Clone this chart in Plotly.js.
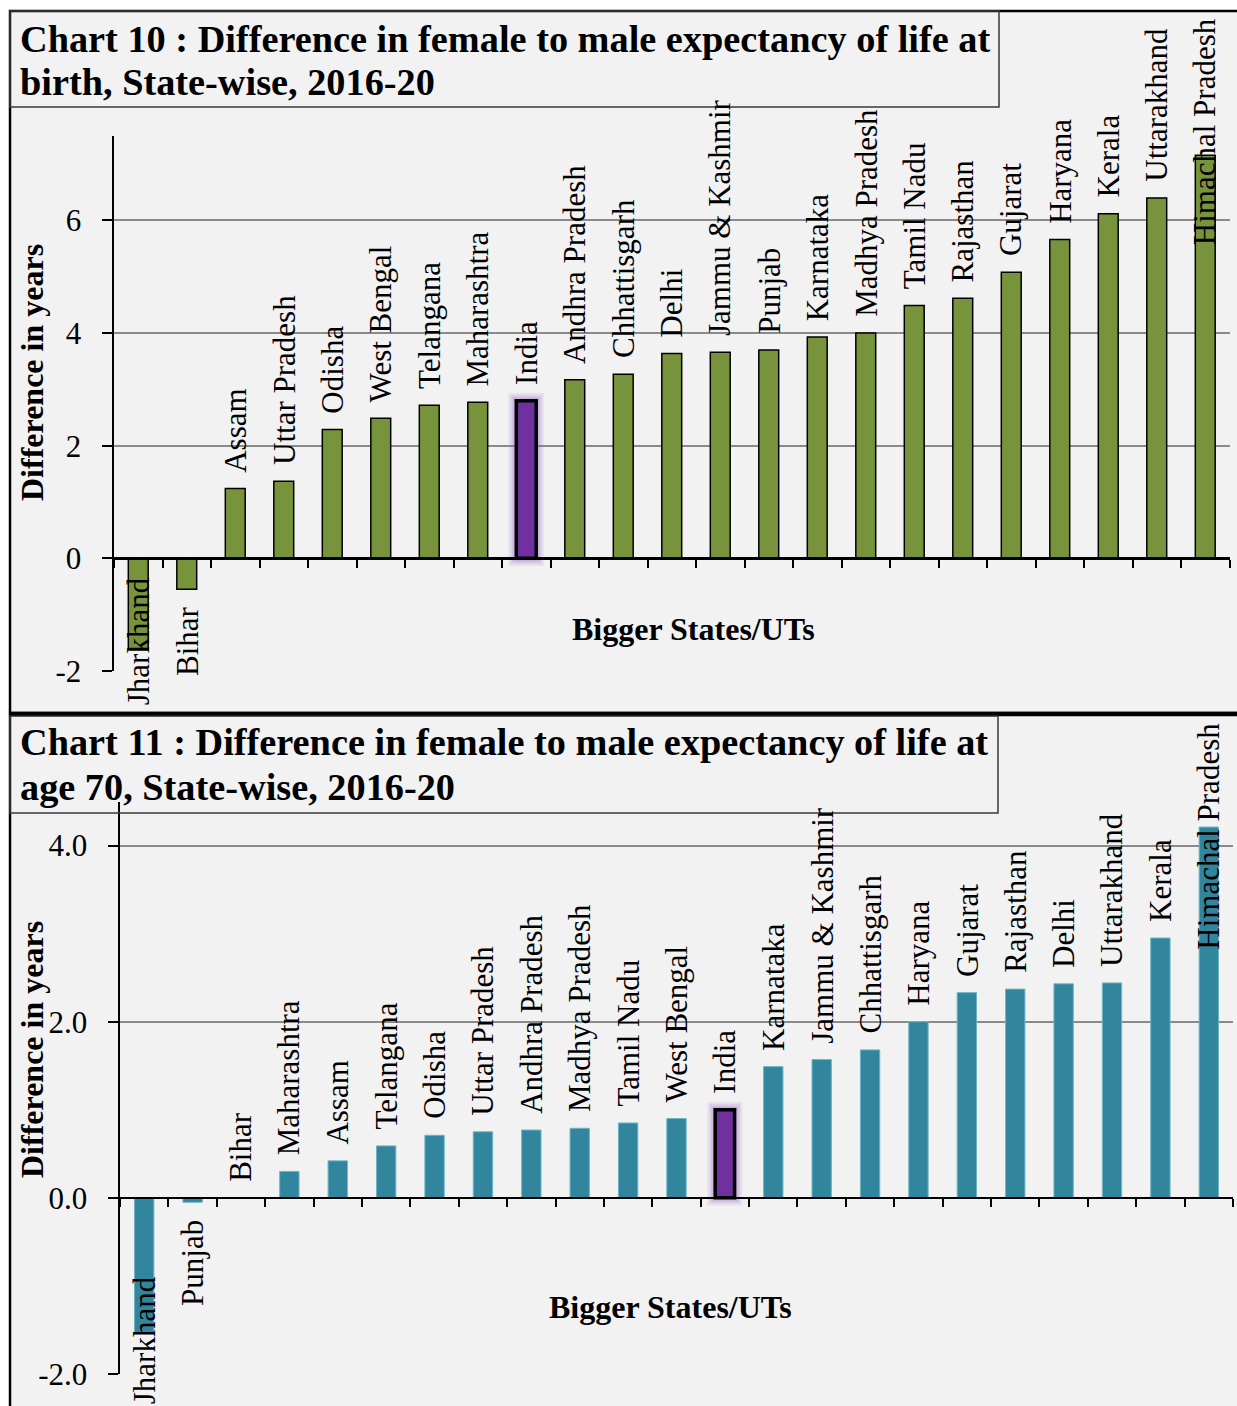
<!DOCTYPE html>
<html><head><meta charset="utf-8">
<script src="https://cdn.plot.ly/plotly-3.0.1.min.js"></script>
<style>html,body{margin:0;padding:0;background:#fff}#chart{width:1237px;height:1406px}</style>
</head><body><div id="chart"></div>
<script>
// ---------- data ----------
const birthStates = ["Jharkhand","Bihar","Assam","Uttar Pradesh","Odisha","West Bengal","Telangana","Maharashtra","India","Andhra Pradesh","Chhattisgarh","Delhi","Jammu & Kashmir","Punjab","Karnataka","Madhya Pradesh","Tamil Nadu","Rajasthan","Gujarat","Haryana","Kerala","Uttarakhand","Himachal Pradesh"];
const birthValues = [-1.6,-0.55,1.24,1.37,2.29,2.49,2.72,2.77,2.8,3.17,3.27,3.64,3.66,3.7,3.93,4.0,4.49,4.62,5.08,5.66,6.12,6.4,7.16];
const age70States = ["Jharkhand","Punjab","Bihar","Maharashtra","Assam","Telangana","Odisha","Uttar Pradesh","Andhra Pradesh","Madhya Pradesh","Tamil Nadu","West Bengal","India","Karnataka","Jammu & Kashmir","Chhattisgarh","Haryana","Gujarat","Rajasthan","Delhi","Uttarakhand","Kerala","Himachal Pradesh"];
const age70Values = [-1.53,-0.05,0,0.3,0.42,0.59,0.71,0.75,0.77,0.79,0.85,0.9,1.0,1.49,1.57,1.68,2.0,2.33,2.37,2.43,2.44,2.95,4.21];
const birthTickVals = [-2,0,2,4,6];
const birthTickText = ["-2","0","2","4","6"];
const age70TickVals = [-2,0,2,4];
const age70TickText = ["-2.0","0.0","2.0","4.0"];
const birthRange = [-2,7.5];
const age70Range = [-2,4.5];
const titleBirth = ["Chart 10 : Difference in female to male expectancy of life at","birth, State-wise, 2016-20"];
const titleAge70 = ["Chart 11 : Difference in female to male expectancy of life at","age 70, State-wise, 2016-20"];
const yTitleText = "Difference in years";
const xTitleText = "Bigger States/UTs";
const highlight = "India";

// ---------- layout helpers ----------
const W = 1237, H = 1406;
const FONT = "Liberation Serif, 'Times New Roman', serif";
const fx = x => x / W;
const fy = y => 1 - y / H;

const panels = [
  {states:birthStates, values:birthValues, range:birthRange, tv:birthTickVals, tt:birthTickText, title:titleBirth,
   color:"#77933c", lineColor:"#000000", lineW:1.5,
   xd:[114,1229.5], yd:[136,671], top:11, bottom:713, labelBottomLimit:707, titleBox:[10,999,11,107], titleY:[39,82],
   xTitleY:629, xTitleX:693, yTitleY:373, xa:"x", ya:"y", barW:0.41},
  {states:age70States, values:age70Values, range:age70Range, tv:age70TickVals, tt:age70TickText, title:titleAge70,
   color:"#31859c", lineColor:"#6fb4c6", lineW:1,
   xd:[120,1233], yd:[801.5,1374], top:715, bottom:1412, labelBottomLimit:1406, titleBox:[10,998,716,813], titleY:[742,787],
   xTitleY:1307, xTitleX:670, yTitleY:1050, xa:"x2", ya:"y2", barW:0.40}
];

const canvas = document.createElement("canvas");
const ctx = canvas.getContext("2d");
const LABEL_SIZE = 31;
ctx.font = LABEL_SIZE + "px 'Liberation Serif'";

const traces = [], annotations = [], shapes = [];
const layout = {
  width: W, height: H, margin:{l:0,r:0,t:0,b:0},
  paper_bgcolor:"#ffffff", plot_bgcolor:"rgba(0,0,0,0)",
  showlegend:false, barmode:"overlay", font:{family:FONT, color:"#000"}
};

panels.forEach((p, i) => {
  const r0 = p.range[0], r1 = p.range[1];
  const pxPerUnit = (p.yd[1] - p.yd[0]) / (r1 - r0);
  const yPx = v => p.yd[1] - (v - r0) * pxPerUnit;
  const catPx = (p.xd[1] - p.xd[0]) / p.states.length;
  const sfx = i === 0 ? "" : "2";

  // glow behind highlighted bar
  [[8,0.10],[6,0.14],[4,0.2],[2,0.3]].forEach(([g,a]) => {
    traces.push({
      type:"bar", x:p.states, xaxis:p.xa, yaxis:p.ya,
      y:p.values.map((v,k) => p.states[k]===highlight ? Math.abs(v) + 2*g/pxPerUnit : null),
      base:p.values.map((v,k) => p.states[k]===highlight ? Math.min(v,0) - g/pxPerUnit : null),
      width:p.states.map(s => p.barW + 2*g/catPx),
      marker:{color:"rgba(150,100,200," + a + ")", line:{width:0}},
      hoverinfo:"skip"
    });
  });
  // main bars
  traces.push({
    type:"bar", x:p.states, y:p.values, xaxis:p.xa, yaxis:p.ya, width:p.barW,
    marker:{
      color:p.states.map(s => s===highlight ? "#7030a0" : p.color),
      line:{color:p.states.map(s => s===highlight ? "#000000" : p.lineColor),
            width:p.states.map(s => s===highlight ? 3.5 : p.lineW)}
    }
  });

  const zeroPos = fy(yPx(0));
  layout["xaxis"+sfx] = {
    domain:[fx(p.xd[0]), fx(p.xd[1])], anchor:"free", position:zeroPos,
    type:"category", range:[-0.5, p.states.length-0.5],
    showline:true, linecolor:"#000", linewidth:2.5,
    ticks:"outside", tickson:"boundaries", ticklen:8, tickwidth:2, tickcolor:"#000",
    showticklabels:false, showgrid:false, zeroline:false, fixedrange:true
  };
  layout["yaxis"+sfx] = {
    domain:[fy(p.yd[1]), fy(p.yd[0])], anchor:p.xa, range:p.range,
    tickmode:"array", tickvals:p.tv, ticktext:p.tt,
    showline:true, linecolor:"#000", linewidth:2.5,
    ticks:"outside", ticklen:10, tickwidth:2, tickcolor:"#000",
    ticklabelstandoff:14,
    tickfont:{family:FONT, size:31, color:"#000"},
    showgrid:true, gridcolor:"#8a8a8a", gridwidth:2, zeroline:false, fixedrange:true
  };

  // panel background + borders
  shapes.push({type:"rect", xref:"paper", yref:"paper", layer:"below",
    x0:fx(10), x1:fx(W+20), y0:fy(p.bottom), y1:fy(p.top),
    fillcolor:"#f2f2f2", line:{color:"#000", width:2.5}});
  // title box
  const tb = p.titleBox;
  shapes.push({type:"rect", xref:"paper", yref:"paper", layer:"above",
    x0:fx(tb[0]), x1:fx(tb[1]), y0:fy(tb[3]), y1:fy(tb[2]),
    fillcolor:"rgba(0,0,0,0)", line:{color:"#3a3a3a", width:1.5}});
  p.title.forEach((t, k) => annotations.push({
    xref:"paper", yref:"paper", x:fx(18), y:fy(p.titleY[k]), xanchor:"left", yanchor:"middle",
    text:"<b>"+t+"</b>", showarrow:false, font:{family:FONT, size:38.3, color:"#000"}
  }));
  // axis titles
  annotations.push({xref:"paper", yref:"paper", x:fx(32), y:fy(p.yTitleY), xanchor:"center", yanchor:"middle",
    textangle:-90, text:"<b>"+yTitleText+"</b>", showarrow:false, font:{family:FONT, size:32, color:"#000"}});
  annotations.push({xref:"paper", yref:"paper", x:fx(p.xTitleX), y:fy(p.xTitleY), xanchor:"center", yanchor:"middle",
    text:"<b>"+xTitleText+"</b>", showarrow:false, font:{family:FONT, size:32, color:"#000"}});

  // category labels (rotated), placed outside bar end, kept inside the panel
  const gap = 14;
  p.states.forEach((s, k) => {
    const v = p.values[k];
    const len = ctx.measureText(s).width + 6;
    let bottomPx;
    if (v >= 0) {
      bottomPx = yPx(v) - gap;
      if (bottomPx - len < p.top + 4) bottomPx = p.top + 4 + len;
    } else {
      bottomPx = yPx(v) + gap + len;
      if (bottomPx > p.labelBottomLimit) bottomPx = p.labelBottomLimit;
    }
    annotations.push({xref:p.xa, yref:"paper", x:s, y:fy(bottomPx), xanchor:"center", yanchor:"bottom",
      textangle:-90, text:s, showarrow:false, font:{family:FONT, size:LABEL_SIZE, color:"#000"}});
  });
});

// separator between the two panels
shapes.push({type:"line", xref:"paper", yref:"paper", layer:"above",
  x0:fx(9), x1:fx(W+20), y0:fy(713.5), y1:fy(713.5), line:{color:"#000", width:3.5}});

layout.shapes = shapes;
layout.annotations = annotations;
Plotly.newPlot("chart", traces, layout, {staticPlot:true, displayModeBar:false});
</script>
</body></html>
